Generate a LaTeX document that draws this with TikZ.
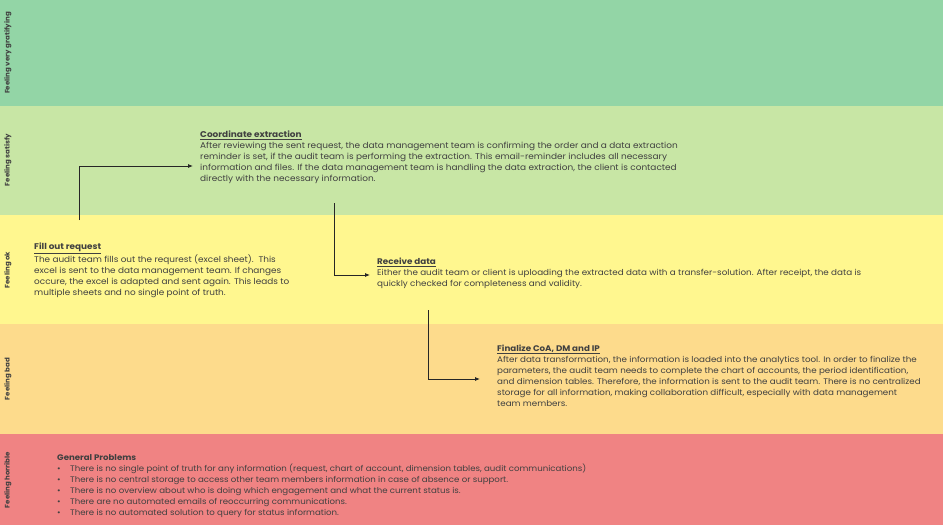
\documentclass[tikz,border=0pt]{standalone}
\usepackage{fontspec}
\setmainfont[FakeStretch=1.07]{Poppins}
\usetikzlibrary{arrows.meta}
\definecolor{bandA}{RGB}{147,213,166}
\definecolor{bandB}{RGB}{200,230,165}
\definecolor{bandC}{RGB}{255,247,143}
\definecolor{bandD}{RGB}{253,219,140}
\definecolor{bandE}{RGB}{240,131,131}
\definecolor{txt}{RGB}{64,64,64}
\tikzset{
  side/.style={rotate=90, font=\fontsize{6.6}{7}\selectfont\bfseries, text=txt, inner sep=0pt},
  body/.style={anchor=north west, align=left, inner sep=0pt, text=txt},
  arr/.style={draw=black!85, line width=0.8pt, -{Latex[length=5pt,width=4pt]}},
}
\newcommand{\ttl}[1]{\underline{\textbf{#1}}}
\newcommand{\fs}[1]{\fontsize{#1}{11}\selectfont}
\begin{document}
\begin{tikzpicture}[x=1pt,y=-1pt]
\useasboundingbox (0,0) rectangle (943,525);
\fill[bandA] (0,0) rectangle (943,106);
\fill[bandB] (0,106) rectangle (943,215);
\fill[bandC] (0,215) rectangle (943,324);
\fill[bandD] (0,324) rectangle (943,434);
\fill[bandE] (0,434) rectangle (943,525);

\node[side] (l1) at (8,53) {Feeling very gratifying};
\node[side] (l2) at (8,160) {Feeling satisfy};
\node[side] (l3) at (8,270) {Feeling ok};
\node[side] (l4) at (8,379) {Feeling bad};
\node[side] (l5) at (8,480) {Feeling horrible};

\node[body, font=\fs{8.35}] (coord) at (200,130.5) {\ttl{Coordinate extraction}\\
After reviewing the sent request, the data management team is confirming the order and a data extraction\\
reminder is set, if the audit team is performing the extraction. This email-reminder includes all necessary\\
information and files. If the data management team is handling the data extraction, the client is contacted\\
directly with the necessary information.};

\node[body, font=\fs{8.3}] (fill) at (34,242.5) {\ttl{Fill out request}\\
The audit team fills out the requrest (excel sheet).\ \ This\\
excel is sent to the data management team. If changes\\
occure, the excel is adapted and sent again. This leads to\\
multiple sheets and no single point of truth.};

\node[body, font=\fs{8.2}] (recv) at (377,258) {\ttl{Receive data}\\
Either the audit team or client is uploading the extracted data with a transfer-solution. After receipt, the data is\\
quickly checked for completeness and validity.};

\node[body, font=\fs{8.15}] (final) at (497,344.5) {\ttl{Finalize CoA, DM and IP}\\
After data transformation, the information is loaded into the analytics tool. In order to finalize the\\
parameters, the audit team needs to complete the chart of accounts, the period identification,\\
and dimension tables. Therefore, the information is sent to the audit team. There is no centralized\\
storage for all information, making collaboration difficult, especially with data management\\
team members.};

\node[body, font=\fs{8.05}] (gen) at (57,454.5) {\textbf{General Problems}};
\node[body, font=\fs{8.05}] (bul) at (57,464) {%
\makebox[13pt][l]{\textbullet}There is no single point of truth for any information (request, chart of account, dimension tables, audit communications)\\
\makebox[13pt][l]{\textbullet}There is no central storage to access other team members information in case of absence or support.\\
\makebox[13pt][l]{\textbullet}There is no overview about who is doing which engagement and what the current status is.\\
\makebox[13pt][l]{\textbullet}There are no automated emails of reoccurring communications.\\
\makebox[13pt][l]{\textbullet}There is no automated solution to query for status information.};

\coordinate (s1) at (79,220);
\coordinate (e1) at (193,166);
\coordinate (s2) at (334,203);
\coordinate (e2) at (370,275);
\coordinate (s3) at (428,310);
\coordinate (e3) at (480,379);
\draw[arr] (s1) |- (e1);
\draw[arr] (s2) |- (e2);
\draw[arr] (s3) |- (e3);
\end{tikzpicture}
\end{document}
